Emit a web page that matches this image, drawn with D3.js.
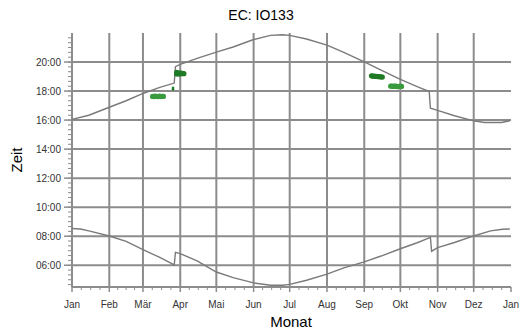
<!DOCTYPE html>
<html>
<head>
<meta charset="utf-8">
<script src="https://cdn.jsdelivr.net/npm/d3@7"></script>
<style>
  body { margin: 0; background: #fff; }
  svg { display: block; font-family: "Liberation Sans", Arial, sans-serif; }
</style>
</head>
<body>
<svg id="chart" width="520" height="333"></svg>
<script>
// month labels on the x axis (last one = Jan of next year)
var monthLabels = ["Jan", "Feb", "M\u00e4r", "Apr", "Mai", "Jun", "Jul", "Aug", "Sep", "Okt", "Nov", "Dez", "Jan"];
var hourTicks = [6, 8, 10, 12, 14, 16, 18, 20];

// sunset line, incl. DST jumps
var sunsetDates = ["2010-01-01","2010-01-15","2010-02-01","2010-02-15","2010-03-01","2010-03-15","2010-03-27","2010-03-28",
  "2010-04-01","2010-04-15","2010-05-01","2010-05-15","2010-06-01","2010-06-15","2010-06-25","2010-07-01","2010-07-15",
  "2010-08-01","2010-08-15","2010-09-01","2010-09-15","2010-10-01","2010-10-15","2010-10-25","2010-10-26","2010-11-01",
  "2010-11-15","2010-12-01","2010-12-10","2010-12-24","2010-12-31"];
var sunsetTimes = ["16:03","16:20","16:53","17:20","17:50","18:15","18:33","19:41",
  "19:50","20:15","20:41","21:02","21:33","21:50","21:53","21:50","21:35",
  "21:10","20:40","20:01","19:27","18:48","18:18","17:58","16:49","16:40",
  "16:18","15:57","15:50","15:50","15:57"];

// sunrise line
var sunriseDates = ["2010-01-01","2010-01-08","2010-01-15","2010-02-01","2010-02-15","2010-03-01","2010-03-15","2010-03-27","2010-03-28",
  "2010-04-01","2010-04-15","2010-05-01","2010-05-15","2010-06-01","2010-06-15","2010-06-25","2010-07-01","2010-07-15",
  "2010-08-01","2010-08-15","2010-09-01","2010-09-15","2010-10-01","2010-10-15","2010-10-26","2010-10-27","2010-11-01",
  "2010-11-15","2010-12-01","2010-12-15","2010-12-25","2010-12-31"];
var sunriseTimes = ["08:32","08:30","08:22","08:01","07:39","07:05","06:32","06:01","06:53",
  "06:48","06:18","05:32","05:09","04:47","04:37","04:37","04:41","04:58",
  "05:23","05:49","06:14","06:38","07:08","07:33","07:55","06:58","07:13",
  "07:34","08:01","08:22","08:29","08:30"];

// measured points (green)
var lightDates = ["2010-03-09","2010-03-10","2010-03-11","2010-03-12","2010-03-13","2010-03-14","2010-03-15","2010-03-16","2010-03-17","2010-03-18",
  "2010-09-23","2010-09-24","2010-09-25","2010-09-26","2010-09-27","2010-09-28","2010-09-29","2010-09-30","2010-10-01","2010-10-02"];
var lightTimes = ["17:38","17:37","17:39","17:38","17:37","17:38","17:39","17:37","17:38","17:38",
  "18:20","18:21","18:19","18:20","18:20","18:19","18:18","18:19","18:20","18:19"];
var darkDates = ["2010-03-26","2010-03-26",
  "2010-03-29","2010-03-29","2010-03-30","2010-03-31","2010-04-01","2010-04-02","2010-04-03","2010-04-04",
  "2010-09-07","2010-09-08","2010-09-09","2010-09-10","2010-09-11","2010-09-12","2010-09-13","2010-09-14","2010-09-15","2010-09-16"];
var darkTimes = ["18:07","18:13",
  "19:11","19:17","19:14","19:10","19:15","19:12","19:13","19:12",
  "19:03","19:02","19:02","19:01","19:01","19:00","19:00","18:59","18:59","18:58"];

var parseDate = d3.timeParse("%Y-%m-%d");
function hrs(s) { var p = s.split(":"); return +p[0] + (+p[1]) / 60; }
function pts(ds, ts) { return ds.map(function(d, i) { return { date: parseDate(d), t: hrs(ts[i]) }; }); }

var svg = d3.select("#chart");
var plotL = 72, plotR = 511, plotT = 33, plotB = 287;

var x = d3.scaleTime()
  .domain([new Date(2010, 0, 1), new Date(2011, 0, 1)])
  .range([plotL, plotR]);
var y = d3.scaleLinear()
  .domain([4.5, 22])
  .range([plotB, plotT]);

var months = d3.timeMonth.range(new Date(2010, 0, 1), new Date(2011, 0, 2));
var gridCol = "#8c8c8c";

// grid
svg.append("g").selectAll("line").data(months.slice(1, 12)).enter().append("line")
  .attr("x1", function(d) { return x(d); }).attr("x2", function(d) { return x(d); })
  .attr("y1", plotT).attr("y2", plotB)
  .style("stroke", gridCol).style("stroke-width", 2);
svg.append("g").selectAll("line").data(hourTicks).enter().append("line")
  .attr("x1", plotL).attr("x2", plotR)
  .attr("y1", function(d) { return y(d); }).attr("y2", function(d) { return y(d); })
  .style("stroke", gridCol).style("stroke-width", 2);

// y axis
var minorY = d3.range(14, 66).map(function(k) { return k / 3; }).filter(function(v) { return v > 4.5 && v < 22; });
var yAxis = svg.append("g").attr("transform", "translate(" + plotL + ",0)");
yAxis.selectAll("line.minor").data(minorY).enter().append("line")
  .attr("x1", -4).attr("x2", 0)
  .attr("y1", function(d) { return y(d); }).attr("y2", function(d) { return y(d); })
  .style("stroke", gridCol).style("stroke-width", 1);
yAxis.selectAll("line.major").data(hourTicks).enter().append("line")
  .attr("x1", -8).attr("x2", 0)
  .attr("y1", function(d) { return y(d); }).attr("y2", function(d) { return y(d); })
  .style("stroke", gridCol).style("stroke-width", 1.5);
yAxis.selectAll("text").data(hourTicks).enter().append("text")
  .attr("x", -11).attr("y", function(d) { return y(d) + 3.5; })
  .attr("text-anchor", "end")
  .style("font-size", "10px").style("fill", "#333")
  .text(function(d) { return (d < 10 ? "0" : "") + d + ":00"; });
yAxis.append("line").attr("x1", 0).attr("x2", 0).attr("y1", plotT).attr("y2", plotB)
  .style("stroke", gridCol).style("stroke-width", 2);

// x axis
var minorX = [];
for (var i = 0; i < 12; i++) {
  var a = x(months[i]), b = x(months[i + 1]);
  for (var k = 1; k < 4; k++) minorX.push(a + (b - a) * k / 4);
}
var xAxis = svg.append("g").attr("transform", "translate(0," + plotB + ")");
xAxis.selectAll("line.minor").data(minorX).enter().append("line")
  .attr("x1", function(d) { return d; }).attr("x2", function(d) { return d; })
  .attr("y1", 0).attr("y2", 3)
  .style("stroke", gridCol).style("stroke-width", 1);
xAxis.selectAll("line.major").data(months).enter().append("line")
  .attr("x1", function(d) { return x(d); }).attr("x2", function(d) { return x(d); })
  .attr("y1", 0).attr("y2", 5)
  .style("stroke", gridCol).style("stroke-width", 1.5);
xAxis.selectAll("text").data(months).enter().append("text")
  .attr("x", function(d) { return x(d); }).attr("y", 21)
  .attr("text-anchor", "middle")
  .style("font-size", "10px").style("fill", "#333")
  .text(function(d, i) { return monthLabels[i]; });
xAxis.append("line").attr("x1", plotL).attr("x2", plotR).attr("y1", 0).attr("y2", 0)
  .style("stroke", gridCol).style("stroke-width", 2);

// curves
var line = d3.line()
  .x(function(d) { return x(d.date); })
  .y(function(d) { return y(d.t); });
[pts(sunsetDates, sunsetTimes), pts(sunriseDates, sunriseTimes)].forEach(function(s) {
  svg.append("path").datum(s).attr("d", line)
    .style("fill", "none").style("stroke", "#7a7a7a").style("stroke-width", 1.4);
});

// measured points
svg.append("g").selectAll("circle").data(pts(lightDates, lightTimes)).enter().append("circle")
  .attr("cx", function(d) { return x(d.date); }).attr("cy", function(d) { return y(d.t); })
  .attr("r", 2.6).style("fill", "#3a9a3e");
svg.append("g").selectAll("circle").data(pts(darkDates, darkTimes)).enter().append("circle")
  .attr("cx", function(d) { return x(d.date); }).attr("cy", function(d) { return y(d.t); })
  .attr("r", function(d, i) { return i < 2 ? 1.3 : 2.6; }).style("fill", "#1f7a25");

// titles
svg.append("text").attr("x", 261).attr("y", 20).attr("text-anchor", "middle")
  .style("font-size", "14px").style("fill", "#000").text("EC: IO133");
svg.append("text").attr("x", 291).attr("y", 327).attr("text-anchor", "middle")
  .style("font-size", "15px").style("fill", "#000").text("Monat");
svg.append("text").attr("transform", "translate(22,160) rotate(-90)").attr("text-anchor", "middle")
  .style("font-size", "15px").style("fill", "#000").text("Zeit");
</script>
</body>
</html>
